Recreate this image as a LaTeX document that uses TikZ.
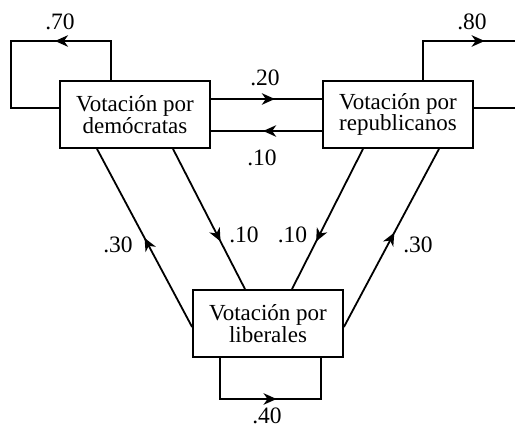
\documentclass[tikz,border=0pt]{standalone}
\usepackage{fontspec}
\setmainfont{Liberation Serif}
\usetikzlibrary{arrows.meta,decorations.markings}
\begin{document}
\begin{tikzpicture}[x=1pt,y=-1pt,line width=1.8pt,
  box/.style={draw,rectangle,minimum width=150pt,minimum height=67pt,align=center,inner sep=0pt,font=\fontsize{23}{21.5}\selectfont},
  lab/.style={inner sep=0pt,font=\fontsize{23.5}{23.5}\selectfont},
  arrowat/.style={postaction={decorate},decoration={markings,mark=at position #1 with {\arrow{Stealth[length=13pt,width=11.5pt,inset=4pt]}}}}]
\useasboundingbox (0,0) rectangle (515,429);
% boxes
\node[box] (D) at (135,114.5) {Votación por\\demócratas};
\node[box] (R) at (398,114.5) {Votación por\\republicanos};
\node[box] (L) at (268,323.5) {Votación por\\liberales};
% loop corner coordinates
\coordinate (d1) at (111,41);
\coordinate (d2) at (11,41);
\coordinate (d3) at (11,108);
\coordinate (r1) at (423,41);
\coordinate (r2) at (515,41);
\coordinate (r3) at (515,108);
\coordinate (l1) at (220,399);
\coordinate (l2) at (321,399);
% democrats self loop
\draw[line join=miter] (D.north -| d1) -- (d1) -- (d2) -- (d3) -- (D.west |- d3);
\draw[arrowat=0.56] (d1) -- (d2);
% republicans self loop (cut at edge)
\draw[line join=miter] (R.north -| r1) -- (r1) -- (r2);
\draw[arrowat=0.67] (r1) -- (r2);
\draw (R.east |- r3) -- (r3);
% liberals self loop
\draw[line join=miter] (L.south -| l1) -- (l1) -- (l2) -- (L.south -| l2);
\draw[arrowat=0.56] (l1) -- (l2);
% horizontal connectors
\coordinate (h1) at (0,99);
\coordinate (h2) at (0,131);
\draw[arrowat=0.575] (D.east |- h1) -- (R.west |- h1);
\draw[arrowat=0.53] (R.west |- h2) -- (D.east |- h2);
% diagonals
\coordinate (a1) at (97,148);
\coordinate (a2) at (193,327);
\coordinate (b1) at (173,148);
\coordinate (b2) at (245,290);
\coordinate (c1) at (363,148);
\coordinate (c2) at (292,290);
\coordinate (e1) at (439,148);
\coordinate (e2) at (343,327);
\draw[arrowat=0.5] (L.west |- a2) -- (D.south -| a1);
\draw[arrowat=0.66] (D.south -| b1) -- (L.north -| b2);
\draw[arrowat=0.66] (R.south -| c1) -- (L.north -| c2);
\draw[arrowat=0.53] (L.east |- e2) -- (R.south -| e1);
% labels
\node[lab] (t70) at (60,22) {.70};
\node[lab] (t80) at (472,22) {.80};
\node[lab] (t20) at (265,78) {.20};
\node[lab] (t10a) at (262,158) {.10};
\node[lab] (t30a) at (118,245) {.30};
\node[lab] (t30b) at (418,245) {.30};
\node[lab] (t10b) at (244,235) {.10};
\node[lab] (t10c) at (292.5,235) {.10};
\node[lab] (t40) at (267,415.5) {.40};
\end{tikzpicture}
\end{document}
